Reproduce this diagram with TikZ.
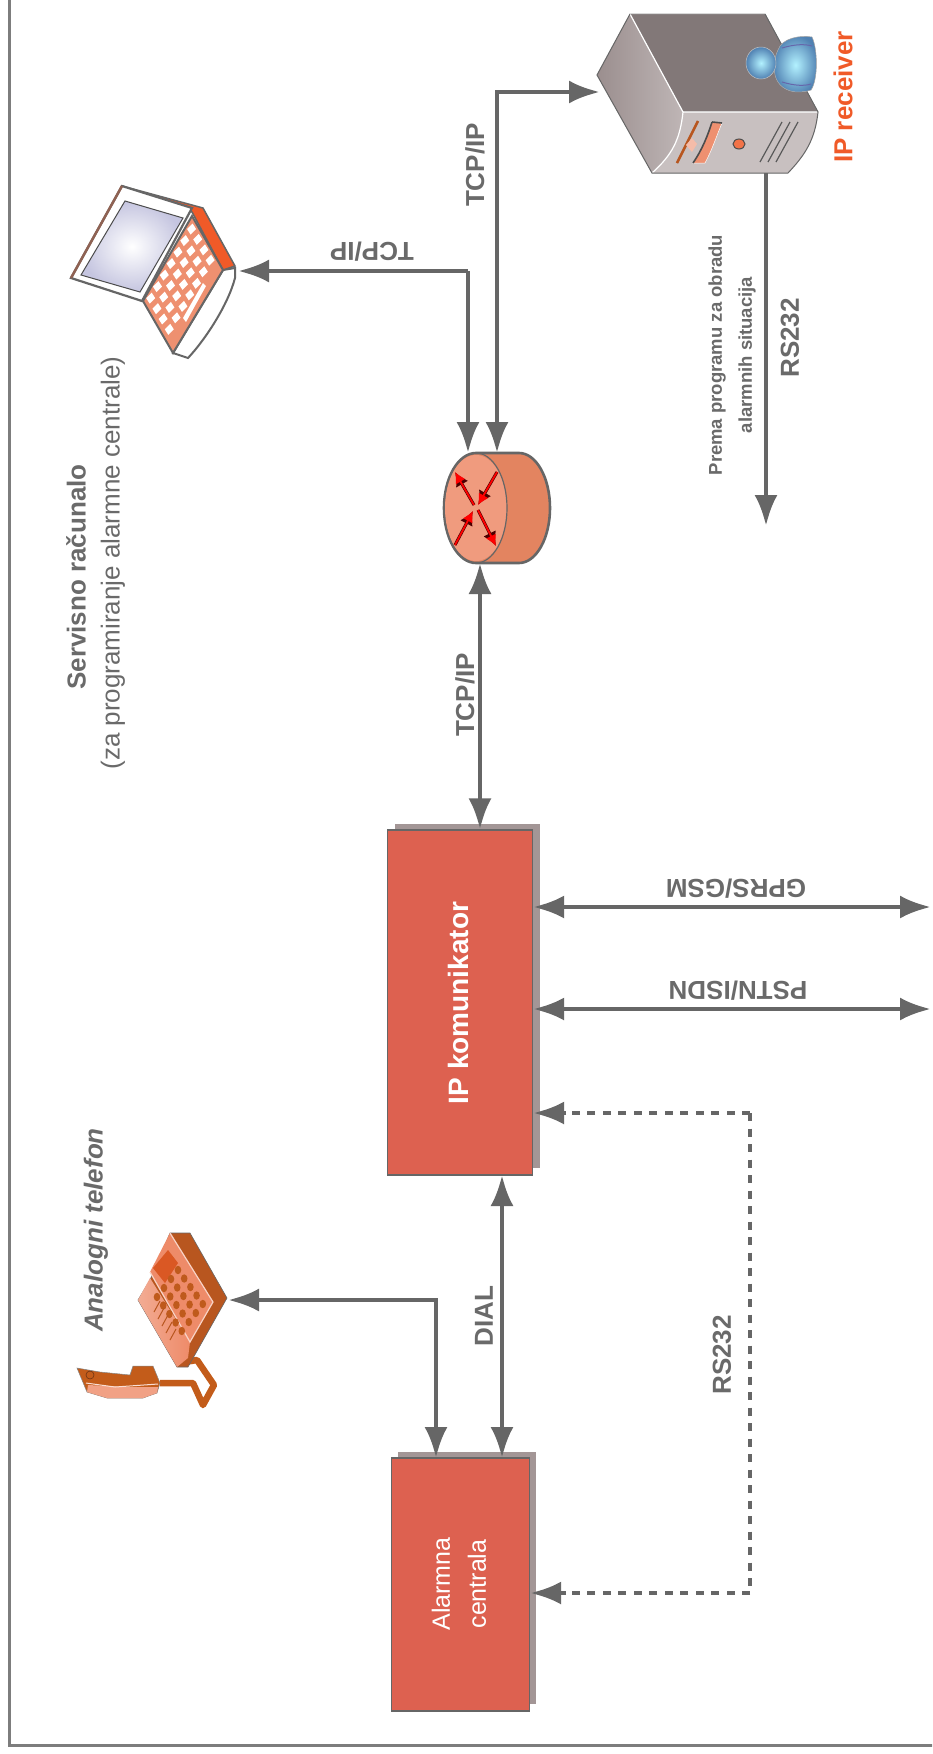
\documentclass[tikz,border=0pt]{standalone}
\usepackage{fontspec}
\setmainfont{Liberation Sans}
\usetikzlibrary{arrows.meta}
\definecolor{lin}{HTML}{666666}
\definecolor{boxc}{HTML}{DD6150}
\definecolor{shad}{HTML}{A39696}
\definecolor{txt}{HTML}{6A6A6A}
\definecolor{orng}{HTML}{F05A28}
\definecolor{salm}{HTML}{EE9070}
\definecolor{dkor}{HTML}{B8561F}
\tikzset{
  conn/.style={draw=lin,line width=4.6pt},
  both/.style={conn,{Latex[length=31pt,width=23pt]}-{Latex[length=31pt,width=23pt]}},
  one/.style={conn,-{Latex[length=31pt,width=23pt]}},
  dash1/.style={conn,line width=4.2pt,dash pattern=on 8pt off 7.5pt},
  blockbox/.style={draw=lin,line width=1.2pt,fill=boxc,inner sep=0pt},
  shadowbox/.style={fill=shad,draw=none,inner sep=0pt},
  lab/.style={text=txt,inner sep=0pt,font=\fontsize{26}{30}\selectfont\bfseries},
  whitelab/.style={text=white,inner sep=0pt,align=center},
  redarrow/.pic={},
}
\begin{document}
\begin{tikzpicture}[x=1pt,y=-1pt]
\useasboundingbox (0,0) rectangle (932,1754);
\clip (0,0) rectangle (932,1754);
\fill[white] (0,0) rectangle (932,1754);
% frame
\draw[draw=lin!85,line width=3pt] (9.5,-10) -- (9.5,1745.5) -- (945,1745.5);

% boxes
\node[shadowbox,minimum width=145pt,minimum height=344pt] (ipkshadow) at (467.5,995.5) {};
\node[blockbox,minimum width=145pt,minimum height=345pt] (ipk) at (460,1002.5) {};
\node[shadowbox,minimum width=138pt,minimum height=252pt] (alarmshadow) at (467,1577.5) {};
\node[blockbox,minimum width=138pt,minimum height=253pt] (alarm) at (460.5,1584.5) {};
\node[whitelab,rotate=90,font=\fontsize{28}{32}\selectfont\bfseries] (ipklab) at (458,1003) {IP komunikator};
\node[whitelab,rotate=90,font=\fontsize{25}{36}\selectfont] (alarmlab) at (459,1584) {Alarmna\\centrala};

% server
\coordinate (srvport) at (600,92);
\coordinate (srvout) at (766,173);
\path[fill=shad!80!black,draw=lin!70,line width=.6pt] (630,14) -- (765,14) -- (818,112) -- (683,112) -- cycle;
\fill[fill=black!0,left color=shad!95!black,right color=shad!70!white] (630,14) -- (683,112) .. controls (680,140) and (672,155) .. (652,173) -- (597,75) -- cycle;
\fill[fill=shad!60!white] (683,112) -- (818,112) .. controls (815,140) and (805,155) .. (788,173) -- (652,173) .. controls (672,155) and (680,140) .. (683,112) -- cycle;
\draw[white,line width=1.2pt] (630,14) -- (683,112) -- (818,112) (683,112) .. controls (680,140) and (672,155) .. (652,173);
\draw[lin,line width=1pt] (630,14) -- (597,75) -- (652,173) -- (788,173) .. controls (805,155) and (815,140) .. (818,112) -- (765,14);
\draw[black!75,line width=1pt] (698,121) -- (677,163);
\draw[dkor,line width=2.5pt] (698,121) -- (677,163);
\path[fill=salm,draw=white,line width=.5pt] (712,122) -- (722,123) .. controls (715,140) and (712,150) .. (705,163) -- (693,163) .. controls (702,150) and (708,135) .. (712,122) -- cycle;
\draw[black!70,line width=1.6pt] (712,122) -- (722,123) (712,122) .. controls (708,135) and (702,150) .. (693,163);
\fill[white!40!salm] (692,138) -- (697,144) -- (692,152) -- (686,145) -- cycle;
\path[fill=orng!85!white,draw=black!70,line width=1pt] (739,144) ellipse [x radius=6,y radius=5];
\foreach \a in {0,8,16}{\draw[black!65,line width=1.2pt] (782+\a,122) -- (760+\a,162);}
% person
\path[fill=blue!0,inner color=blue!18!cyan!30!white,outer color=blue!50!cyan!55!white!70!black,draw=lin!60,line width=.5pt]
  (778,50) .. controls (782,38) and (800,35) .. (812,37) .. controls (818,50) and (818,80) .. (811,90) .. controls (795,95) and (783,90) .. (778,82) .. controls (773,75) and (773,60) .. (778,50) -- cycle;
\draw[blue!45!black!60,line width=1pt] (782,48) .. controls (795,44) and (805,44) .. (812,46) (782,82) .. controls (795,86) and (805,86) .. (811,84);
\path[inner color=blue!18!cyan!30!white,outer color=blue!50!cyan!55!white!70!black,draw=lin!40,line width=.5pt] (761,63) ellipse [x radius=15,y radius=16];
\node[rotate=90,text=orng,inner sep=0pt,font=\fontsize{26}{30}\selectfont\bfseries] (iprec) at (843,97) {IP receiver};

% laptop
\coordinate (lapport) at (238,271);
\path[fill=white,draw=lin,line width=2pt] (235,268) -- (223,270) -- (173,353) -- (188,358) .. controls (205,340) and (228,305) .. (235,278) -- cycle;
\path[fill=orng,draw=lin,line width=1.5pt] (122,186) -- (203,208) -- (235,266) -- (223,270) -- (192,212) -- cycle;
\path[fill=salm,draw=lin,line width=2pt] (192,216) -- (223,270) -- (173,353) -- (143,301) -- cycle;
\foreach \i in {0,...,6}{\foreach \j in {0,...,3}{
  \pgfmathsetmacro{\px}{192.5 +(\i+0.55)*(-49/7.2) +(\j+0.45)*(31/5)}
  \pgfmathsetmacro{\py}{218 +(\i+0.55)*(83/7.2) +(\j+0.45)*(52/5)}
  \fill[white] (\px-4.5,\py) -- (\px+1,\py-5.5) -- (\px+4.5,\py) -- (\px-1,\py+5.5) -- cycle;
}}
\fill[white] (203,283) -- (206,286) -- (186,322) -- (183,318) -- cycle;
\path[fill=white,draw=lin,line width=2.2pt] (122,186) -- (192,208) -- (142,301) -- (71,278) -- cycle;
\draw[lin!70!orng,line width=2.5pt] (122,186) -- (71,278);
\path[inner color=white,outer color=blue!30!gray!35!white,draw=black!70,line width=1pt] (125,201) -- (183,218) -- (140,292) -- (81,275) -- cycle;

% router
\coordinate (rtrA) at (468,453);
\coordinate (rtrB) at (497,453);
\coordinate (rtrC) at (480,563);
\path[fill=salm!80!dkor,draw=lin,line width=2.6pt] (476,453) -- (519,453) arc [start angle=-90,end angle=90,x radius=31,y radius=55] -- (476,563) arc [start angle=90,end angle=270,x radius=32,y radius=55] -- cycle;
\path[fill=salm!90!white,draw=none] (476,508) ellipse [x radius=31,y radius=53];
\draw[lin,line width=1.2pt] (476,453) arc [start angle=-90,end angle=90,x radius=31,y radius=55];
\foreach \a/\b/\c/\d in {474/505/455/472, 478/510/496/546, 497/472/478/505, 455/545/473/511}{
  \draw[black!70!red,line width=3pt,-{Latex[length=14pt,width=14pt]}] (\a,\b) -- (\c,\d);
  \draw[red,line width=1.8pt,-{Latex[length=11pt,width=11pt]}] (\a,\b) -- (\c,\d);
}

% phone
\coordinate (phnport) at (228,1300);
\draw[draw=dkor!85!orange,line width=6.5pt,line join=round] (160,1383) -- (193,1383) -- (203,1405) -- (214,1385) -- (197,1360) -- (185,1362);
\path[fill=dkor,draw=lin,line width=.6pt] (170,1233) -- (190,1233) -- (227,1298) -- (188,1367) -- (177,1367) -- (138,1300) -- (150,1280) -- cycle;
\path[fill=salm!90!orng] (170,1233) -- (213,1302) -- (190,1342) -- (150,1272) -- cycle;
\path[left color=salm!75!white,right color=salm!90!orng] (150,1278) -- (190,1342) -- (188,1358) -- (177,1367) -- (138,1300) -- cycle;
\draw[white!60!salm,line width=1.2pt] (170,1233) -- (213,1302) -- (190,1342) -- (150,1272);
\fill[orng!60!dkor] (168,1250) -- (178,1263) -- (165,1283) -- (153,1268) -- cycle;
\foreach \i in {0,...,4}{\foreach \j in {0,...,3}{
  \pgfmathsetmacro{\px}{178+\i*6.2-\j*7}
  \pgfmathsetmacro{\py}{1270+\i*8.5+\j*10.5-\j*1.5}
  \fill[dkor!90!orange] (\px,\py) ellipse [x radius=3.3,y radius=4.2];
}}
\foreach \i in {0,...,4}{\draw[dkor,line width=1pt] (160+\i*4,1305+\i*7-4) -- (154+\i*4,1316+\i*7-4);}
\path[fill=dkor!85!orange,draw=lin!80,line width=.5pt] (77,1368) -- (100,1372) -- (130,1375) -- (133,1366) -- (153,1366) -- (160,1383) -- (157,1393) -- (143,1398) -- (107,1398) -- (87,1392) -- cycle;
\path[fill=salm!85!white] (88,1385) -- (130,1387) -- (158,1387) -- (157,1393) -- (143,1398) -- (107,1398) -- (87,1392) -- cycle;
\draw[white!70!salm,line width=1pt] (86,1383) -- (115,1387) -- (158,1384);
\draw[black!40!dkor,line width=.6pt] (90,1375) circle [radius=4];

% connectors
\coordinate (gprsend) at (931,907);
\coordinate (pstnend) at (931,1009);
\coordinate (rsend) at (766,526);
\coordinate (dash1) at (750,1113);
\coordinate (dash2) at (750,1593);
\draw[one] (rtrA |- 0,271) -- (lapport);
\draw[one] (rtrA |- 0,271) -- (rtrA);
\draw[both] (rtrB) -- (rtrB |- 0,92) -- (srvport);
\draw[both] (rtrC) -- (rtrC |- ipk.north);
\draw[one] (srvout) -- (rsend);
\draw[both] (ipk.east |- gprsend) -- (gprsend);
\draw[both] (ipk.east |- pstnend) -- (pstnend);
\draw[both] (502,1458) -- (502,1175);
\draw[both] (phnport) -- (436,1300) -- (436,1458);
\draw[dash1] (dash1) -- (dash2);
\draw[dash1] (dash1) -- (566,1113);
\draw[dash1] (dash2) -- (566,1593);
\draw[conn,-{Latex[length=31pt,width=23pt]}] (566,1113) -- (ipk.east |- dash1);
\draw[conn,-{Latex[length=31pt,width=23pt]}] (566,1593) -- (alarm.east |- dash2);

% labels
\node[lab,rotate=90] (t1) at (475,165) {TCP/IP};
\node[lab,rotate=180] (t2) at (372,252) {TCP/IP};
\node[lab,rotate=90] (t3) at (465,695) {TCP/IP};
\node[lab,rotate=180] (t4) at (736,889) {GPRS/GSM};
\node[lab,rotate=180] (t5) at (738,991) {PSTN/ISDN};
\node[lab,rotate=90] (t6) at (484,1316) {DIAL};
\node[lab,rotate=90] (t7) at (722,1355) {RS232};
\node[lab,rotate=90] (t8) at (790,338) {RS232};
\node[rotate=90,text=txt,inner sep=0pt,align=center,font=\fontsize{18.5}{30}\selectfont\bfseries] (prema) at (732,355) {Prema programu za obradu\\alarmnih situacija};
\node[rotate=90,text=txt,inner sep=0pt,font=\fontsize{26}{30}\selectfont\bfseries] (serv) at (76,577) {Servisno računalo};
\node[rotate=90,text=txt,inner sep=0pt,font=\fontsize{26}{30}\selectfont] (za) at (113,563) {(za programiranje alarmne centrale)};
\node[rotate=90,text=txt,inner sep=0pt,font=\fontsize{26}{30}\selectfont\bfseries\itshape] (anal) at (96,1230) {Analogni telefon};
\end{tikzpicture}
\end{document}
